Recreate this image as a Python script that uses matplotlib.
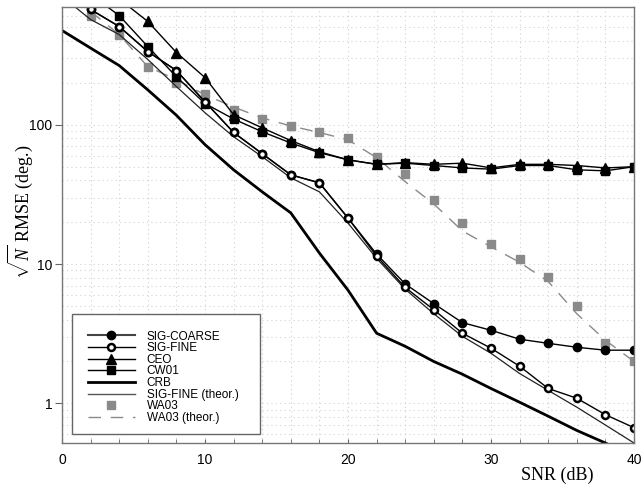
import matplotlib
matplotlib.use("Agg")
import matplotlib.pyplot as plt
from matplotlib.lines import Line2D
from matplotlib.patches import Rectangle
from matplotlib.ticker import FixedLocator, NullFormatter, LogLocator

plt.rcParams["font.family"] = ["Liberation Sans", "DejaVu Sans"]
plt.rcParams["mathtext.fontset"] = "custom"
plt.rcParams["mathtext.rm"] = "Liberation Serif"
plt.rcParams["mathtext.it"] = "Liberation Serif:italic"

# SNR grid (dB)
snr = list(range(0, 42, 2))

sig_coarse = [None, 672, 507, 335, 245, 146, 88, 62, 43.7, 38.3, 21.4,
              11.8, 7.2, 5.2, 3.8, 3.35, 2.89, 2.70, 2.53, 2.41, 2.41]
sig_fine = [None, 672, 507, 335, 245, 146, 88, 62, 43.7, 38.3, 21.4,
            11.4, 6.8, 4.7, 3.19, 2.49, 1.85, 1.28, 1.09, 0.83, 0.67]
ceo = [None, None, 800, 551, 330, 218, 118, 95, 77, 64, 56,
       52, 53.5, 52, 53, 49, 52, 52, 51, 49, 50]
cw01 = [None, 861, 608, 364, 221, 142, 110, 89, 74, 63, 56,
        52, 53, 51, 49, 48, 51, 51, 47.5, 46.7, 50]
crb = [475, 355, 266, 178, 117, 72, 47.5, 33, 23.3, 12.0, 6.5,
       3.19, 2.57, 2.0, 1.62, 1.28, 1.02, 0.81, 0.64, 0.52, 0.41]
sig_fine_theor = [834, 569, 444, 294, 188, 122, 82, 59, 41.6, 33, 19.7,
                  11.0, 6.6, 4.4, 3.03, 2.29, 1.64, 1.24, 0.94, 0.70, 0.52]
wa03 = [None, 608, 444, 261, 200, 167, 128, 110, 98, 89, 81,
        59, 44, 29, 19.7, 13.9, 10.9, 8.1, 5.0, 2.7, 2.0]
wa03_theor = [900, 650, 444, 261, 211, 164, 134, 112, 98, 88, 78,
              58, 39, 27, 17.3, 13.3, 10.3, 7.5, 4.4, 2.84, 2.0]


def pts(vals):
    xs = [s for s, v in zip(snr, vals) if v is not None]
    ys = [v for v in vals if v is not None]
    return xs, ys


fig = plt.figure(figsize=(6.42, 4.88), dpi=100)
ax = fig.add_axes([62 / 642, 45 / 488, 572 / 642, 436 / 488])

gray = "#8a8a8a"
ax.plot(*pts(wa03_theor), color=gray, lw=1.0, dashes=(9, 7))
ax.plot(*pts(wa03), ls="none", marker="s", ms=6, color=gray, mec=gray)
ax.plot(*pts(crb), color="black", lw=2.0)
ax.plot(*pts(sig_fine_theor), color="#222222", lw=0.9)
ax.plot(*pts(ceo), color="black", lw=1.0, marker="^", ms=6.5)
ax.plot(*pts(cw01), color="black", lw=1.0, marker="s", ms=6)
ax.plot(*pts(sig_coarse), color="black", lw=1.0, marker="o", ms=6)
ax.plot(*pts(sig_fine), color="black", lw=1.0, marker="o", ms=5,
        mfc="white", mec="black", mew=1.8)

ax.set_yscale("log")
ax.set_xlim(0, 40)
ax.set_ylim(0.52, 700)

ax.xaxis.set_major_locator(FixedLocator([0, 10, 20, 30, 40]))
ax.xaxis.set_minor_locator(FixedLocator(range(0, 42, 2)))
ax.yaxis.set_major_locator(FixedLocator([1, 10, 100]))
ax.yaxis.set_minor_locator(LogLocator(base=10, subs=range(2, 10)))
ax.yaxis.set_minor_formatter(NullFormatter())
ax.set_yticklabels(["1", "10", "100"])

ax.tick_params(axis="x", which="both", direction="in", length=3,
               color="#666666", labelsize=10, pad=7)
ax.tick_params(axis="y", which="major", direction="out", length=5,
               color="#666666", labelsize=10, pad=2)
ax.tick_params(axis="y", which="minor", length=0)

ax.grid(True, which="both", color="#d2d2d2", ls=(0, (1, 3)), lw=0.8)
for sp in ax.spines.values():
    sp.set_color("#777777")
    sp.set_linewidth(1.0)

ax.set_ylabel(r"$\sqrt{N}$ RMSE (deg.)", fontsize=13,
              family="Liberation Serif")
ax.yaxis.set_label_coords(-0.047, 0.53)
ax.text(0.865, -0.075, "SNR (dB)", transform=ax.transAxes, fontsize=13,
        family="Liberation Serif", ha="center", va="center")

# legend box
ax.add_patch(Rectangle((0.0175, 0.021), 0.3285, 0.275, transform=ax.transAxes,
                       fill=True, facecolor="white", edgecolor="#666666",
                       lw=1.0, zorder=5))

handles = [
    Line2D([], [], color="#444444", lw=1.5, marker="o", ms=6, mfc="black", mec="black"),
    Line2D([], [], color="black", lw=1.0, marker="o", ms=5, mfc="white", mec="black", mew=1.8),
    Line2D([], [], color="black", lw=1.0, marker="^", ms=6.5),
    Line2D([], [], color="black", lw=1.0, marker="s", ms=6),
    Line2D([], [], color="black", lw=2.0),
    Line2D([], [], color="#555555", lw=1.0),
    Line2D([], [], ls="none", marker="s", ms=6, color=gray),
    Line2D([], [], color=gray, lw=1.0, dashes=(9, 7)),
]
labels = ["SIG-COARSE", "SIG-FINE", "CEO", "CW01", "CRB",
          "SIG-FINE (theor.)", "WA03", "WA03 (theor.)"]
leg = ax.legend(handles, labels, loc="upper left",
                bbox_to_anchor=(0.045, 0.258), frameon=False, fontsize=8.5,
                handlelength=4.0, handletextpad=1.0, labelspacing=-0.03,
                borderpad=0, borderaxespad=0)
leg.set_zorder(6)

fig.savefig("out.png", dpi=100)
